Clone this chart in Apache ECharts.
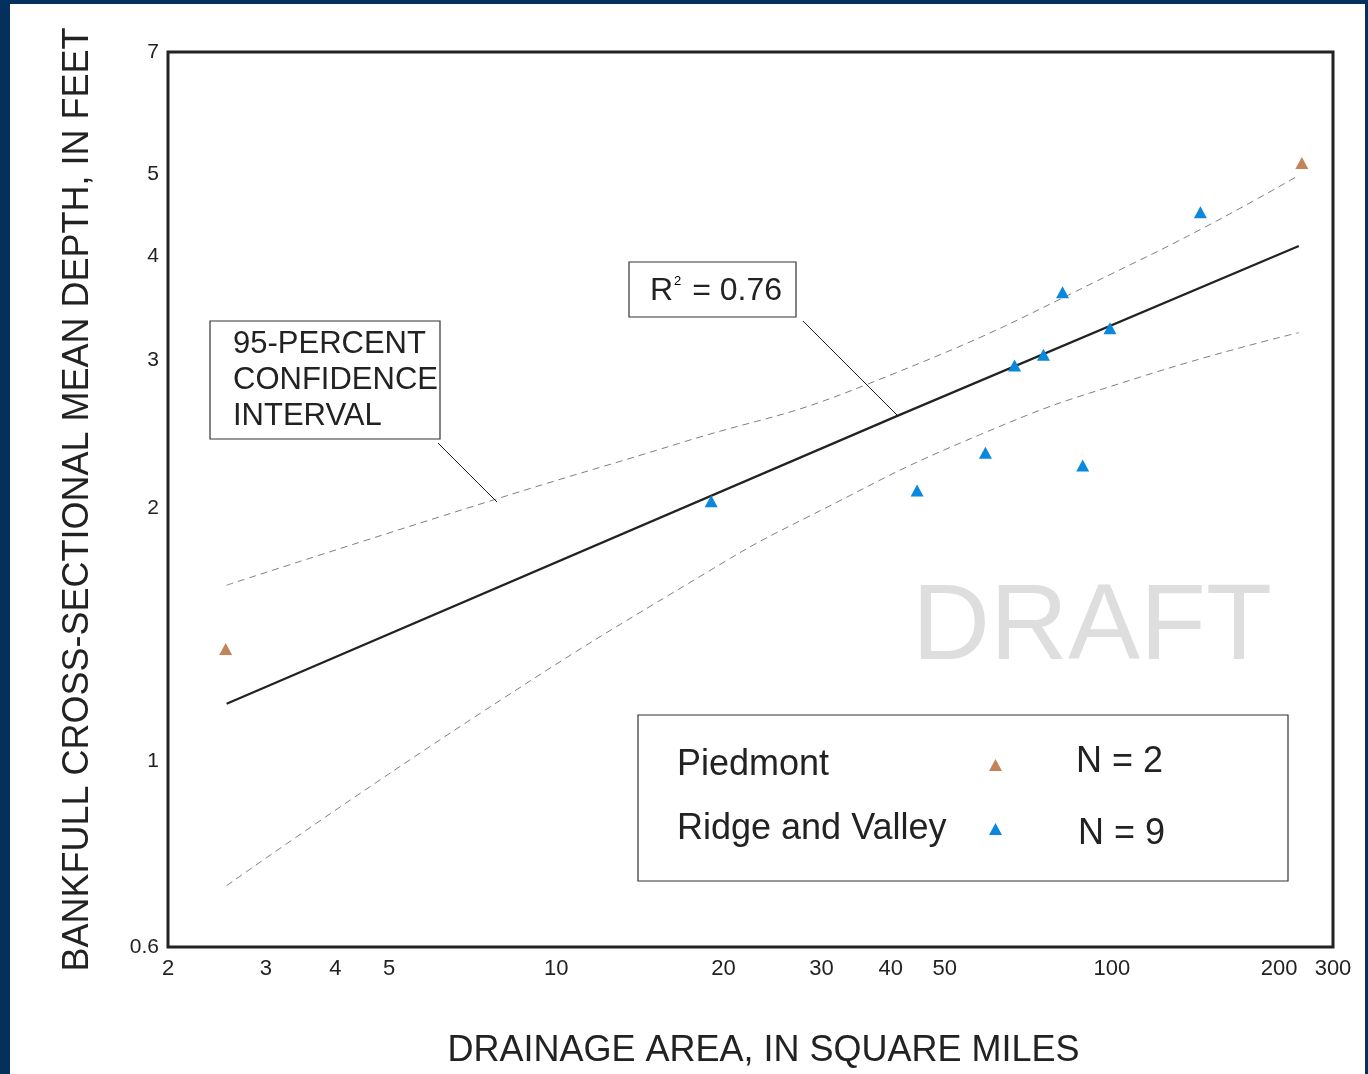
<!DOCTYPE html>
<html>
<head>
<meta charset="utf-8">
<script src="https://cdn.jsdelivr.net/npm/echarts@6/dist/echarts.min.js"></script>
<style>
  html, body { margin: 0; padding: 0; background: #ffffff; }
  #frame {
    width: 1355px; height: 1070px;
    border-left: 10px solid #03305c; border-top: 4px solid #03305c; border-right: 3px solid #03305c;
    background: #ffffff;
  }
  #chart { width: 1355px; height: 1070px; }
</style>
</head>
<body>
<div id="frame"><div id="chart"></div></div>
<script>
// drainage area (sq mi) / bankfull mean depth (ft)
const piedmontArea = [2.54, 219.7];
const piedmontDepth = [1.36, 5.16];
const ridgeArea = [19.0, 44.6, 59.2, 66.8, 75.3, 81.5, 88.6, 99.2, 144.3];
const ridgeDepth = [2.04, 2.10, 2.33, 2.96, 3.05, 3.62, 2.25, 3.28, 4.51];

// regression line and 95-percent confidence band
const fitArea = [2.55, 41.2, 217];
const fitDepth = [1.17, 2.58, 4.11];
const upperArea = [2.55, 7.76, 16.6, 36.2, 112.8, 217];
const upperDepth = [1.62, 2.05, 2.39, 2.81, 3.96, 4.99];
const lowerArea = [2.55, 7.23, 19.0, 28.2, 58.0, 112.8, 217];
const lowerDepth = [0.71, 1.135, 1.69, 1.95, 2.45, 2.87, 3.24];

const xTicks = [2, 3, 4, 5, 10, 20, 30, 40, 50, 100, 200, 250];
const yTicks = [0.6, 1, 2, 3, 4, 5, 7];
const counts = ['N = 2', 'N = 9'];

const FONT = '"Liberation Sans", Arial, Helvetica, sans-serif';
const INK = '#222222';

const zip = (xs, ys) => xs.map((x, i) => [x, ys[i]]);

const chart = echarts.init(document.getElementById('chart'));

const option = {
  animation: false,
  textStyle: { fontFamily: FONT, color: INK },
  grid: {
    left: 158, top: 48, right: 32, bottom: 127,
    outerBoundsMode: 'none', containLabel: false,
    show: true, borderColor: INK, borderWidth: 3, backgroundColor: '#fff'
  },
  xAxis: {
    type: 'log', logBase: 10, min: 2, max: 250,
    name: 'DRAINAGE AREA, IN SQUARE MILES',
    nameLocation: 'middle', nameGap: 86,
    nameTextStyle: { fontFamily: FONT, fontSize: 36, color: INK, padding: [0, 0, 0, 26] },
    axisLine: { show: false }, axisTick: { show: false }, splitLine: { show: false },
    axisLabel: {
      customValues: xTicks, fontSize: 22, color: INK, margin: 11, fontFamily: FONT,
      formatter: v => (Math.round(v) === 250 ? '300' : String(Math.round(v)))
    }
  },
  yAxis: {
    type: 'log', logBase: 10, min: 0.6, max: 7,
    name: 'BANKFULL CROSS-SECTIONAL MEAN DEPTH, IN FEET',
    nameLocation: 'middle', nameGap: 72,
    nameTextStyle: { fontFamily: FONT, fontSize: 36, color: INK },
    axisLine: { show: false }, axisTick: { show: false }, splitLine: { show: false },
    axisLabel: {
      customValues: yTicks, fontSize: 21, color: INK, margin: 9, fontFamily: FONT,
      formatter: v => String(Math.round(v * 10) / 10)
    }
  },
  legend: {
    data: ['Piedmont', 'Ridge and Valley'],
    orient: 'vertical', align: 'right', padding: 0,
    left: 667, top: 743, itemGap: 28,
    itemWidth: 13, itemHeight: 12, icon: 'triangle',
    formatter: '{n|{name}}',
    textStyle: {
      rich: { n: { width: 307, align: 'left', fontSize: 36, lineHeight: 40, fontFamily: FONT, color: INK } }
    }
  },
  graphic: [
    { type: 'text', left: 902, top: 571, z: 0,
      style: { text: 'DRAFT', fontSize: 108, fontFamily: FONT, fill: '#dedede' } },
    { type: 'rect', shape: { x: 619, y: 258, width: 167, height: 55 }, z: 5,
      style: { fill: '#fff', stroke: '#333', lineWidth: 1.2 } },
    { type: 'text', x: 706, y: 287, z: 6,
      style: {
        text: '{a|R}{s|2}{a| = 0.76}', align: 'center', verticalAlign: 'middle',
        rich: {
          a: { fontSize: 32, fontFamily: FONT, fill: INK, color: INK },
          s: { fontSize: 13, fontFamily: FONT, color: INK, verticalAlign: 'top', padding: [0, 2, 14, 1] }
        }
      } },
    { type: 'line', shape: { x1: 793, y1: 317, x2: 887, y2: 411 }, z: 5,
      style: { stroke: '#222', lineWidth: 1 } },
    { type: 'rect', shape: { x: 200, y: 317, width: 230, height: 118 }, z: 5,
      style: { fill: '#fff', stroke: '#333', lineWidth: 1.2 } },
    { type: 'text', x: 223, y: 376, z: 6,
      style: { text: '95-PERCENT\nCONFIDENCE\nINTERVAL', fontSize: 31, lineHeight: 36, fontFamily: FONT, fill: INK, verticalAlign: 'middle' } },
    { type: 'line', shape: { x1: 428, y1: 439, x2: 487, y2: 498 }, z: 5,
      style: { stroke: '#222', lineWidth: 1 } },
    { type: 'rect', shape: { x: 628, y: 711, width: 650, height: 166 }, z: 1,
      style: { fill: '#fff', stroke: '#333', lineWidth: 1.2 } },
    { type: 'text', x: 1066, y: 758, z: 6,
      style: { text: counts[0], fontSize: 36, fontFamily: FONT, fill: INK, verticalAlign: 'middle' } },
    { type: 'text', x: 1068, y: 830, z: 6,
      style: { text: counts[1], fontSize: 36, fontFamily: FONT, fill: INK, verticalAlign: 'middle' } }
  ],
  series: [
    { name: 'Upper 95%', type: 'line', data: zip(upperArea, upperDepth), smooth: true, showSymbol: false,
      lineStyle: { color: '#808080', width: 1, type: [7, 5] }, z: 2 },
    { name: 'Lower 95%', type: 'line', data: zip(lowerArea, lowerDepth), smooth: true, showSymbol: false,
      lineStyle: { color: '#808080', width: 1, type: [7, 5] }, z: 2 },
    { name: 'Regression', type: 'line', data: zip(fitArea, fitDepth), showSymbol: false,
      lineStyle: { color: INK, width: 2.2 }, z: 3 },
    { name: 'Piedmont', type: 'scatter', data: zip(piedmontArea, piedmontDepth), symbol: 'triangle',
      symbolSize: [13, 12], itemStyle: { color: '#c4845a', opacity: 1 }, z: 4 },
    { name: 'Ridge and Valley', type: 'scatter', data: zip(ridgeArea, ridgeDepth), symbol: 'triangle',
      symbolSize: [13, 12], itemStyle: { color: '#0a88de', opacity: 1 }, z: 4 }
  ]
};

chart.setOption(option);
</script>
</body>
</html>
